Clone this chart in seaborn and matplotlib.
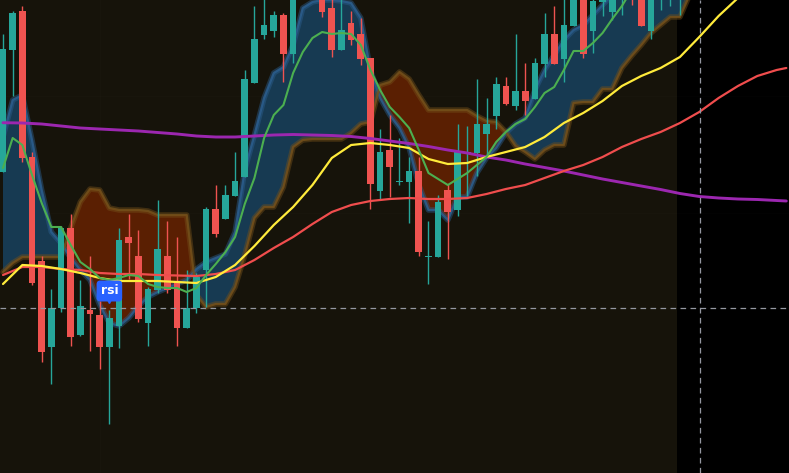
import numpy as np
import pandas as pd
import matplotlib
matplotlib.use("Agg")
import matplotlib.pyplot as plt
import seaborn as sns

# ---------------- data (price units) ----------------
opens = [328, 450, 489, 343, 239, 153, 192, 272, 165, 190, 185, 153, 174, 263, 244, 177, 210, 244, 218, 172,
         192, 230, 291, 281, 304, 323, 417, 465, 469, 485, 446, 520, 550, 540, 492, 450, 477, 466, 442, 309,
         350, 318, 318, 329, 243, 243, 310, 290, 347, 347, 366, 384, 414, 394, 409, 401, 436, 466, 441, 474,
         515, 469, 498, 488, 505, 530, 525, 469, 510, 515, 510]
highs = [466, 489, 494, 348, 244, 211, 274, 286, 220, 244, 199, 190, 272, 286, 270, 213, 300, 279, 263, 230,
         227, 293, 315, 315, 348, 430, 494, 505, 489, 487, 530, 560, 570, 548, 502, 505, 489, 482, 442, 371,
         385, 362, 343, 343, 279, 305, 316, 376, 374, 421, 402, 423, 423, 466, 437, 442, 487, 494, 503, 520,
         520, 510, 530, 525, 530, 535, 535, 530, 540, 545, 550]
lows = [328, 404, 338, 215, 138, 116, 188, 154, 164, 149, 131, 76, 152, 221, 178, 154, 207, 207, 154, 172,
        187, 193, 263, 281, 304, 323, 417, 461, 463, 418, 437, 512, 530, 483, 443, 450, 455, 435, 291, 300,
        303, 315, 277, 244, 216, 243, 241, 284, 304, 324, 343, 371, 395, 390, 385, 401, 423, 436, 418, 474,
        442, 447, 484, 480, 485, 495, 474, 461, 490, 494, 485]
closes = [451, 487, 342, 217, 148, 192, 272, 163, 194, 186, 153, 182, 260, 257, 181, 211, 251, 210, 172, 192,
          223, 291, 266, 305, 319, 421, 461, 475, 485, 446, 520, 550, 540, 488, 450, 470, 460, 441, 316, 348,
          333, 319, 329, 248, 244, 298, 288, 348, 348, 376, 376, 416, 396, 409, 399, 437, 466, 436, 475, 510,
          446, 499, 520, 515, 520, 510, 474, 520, 530, 535, 540]

ma_idx = list(range(0, 81, 2)) + [81]
ma_long = [377.3, 377, 376, 374, 372, 371, 370, 369, 367.5, 366, 364, 363, 363, 364, 365, 365.5, 365, 364.5,
           363.5, 361.5, 359, 356.5, 353.5, 350, 347, 343, 340, 336, 332.5, 329, 325, 321, 317.5, 314, 310.5,
           306.5, 303.5, 302, 301, 300.5, 299.5, 299]
ma_mid = [225, 233, 233, 231, 230, 227, 226, 226, 225, 224.5, 224, 226, 230, 240, 252, 263, 276, 288, 295, 299,
          301, 302, 301, 301, 302, 306, 311, 315, 322, 329, 335, 343, 353, 361, 368, 377, 388, 402, 414, 424,
          430, 432]
ma_fast = [216, 235, 234, 231, 227, 222, 219, 219, 219, 218, 217, 223, 235, 254, 275, 293, 315, 342, 355, 357,
           355, 352, 341, 336, 337, 343, 348, 353, 363, 377, 387, 399, 414, 424, 432, 443, 463, 484, 502, 520,
           535, 542]

tenkan = [332, 362, 355, 325, 297, 273, 273, 255, 238, 231, 222, 220, 222, 225, 224, 216, 213, 212, 212, 208,
          212, 225, 236, 248, 263, 296, 322, 362, 385, 395, 427, 448, 462, 468, 466, 467, 466, 455, 430, 410,
          393, 383, 372, 350, 327, 321, 315, 321, 327, 335, 343, 358, 368, 376, 381, 393, 407, 413, 430, 449,
          449, 457, 467, 481, 494, 510]

span_a = [363, 400, 405, 360, 310, 268, 257, 242, 230, 220, 195, 177, 174, 182, 194, 203, 208, 212, 216, 220,
          231, 238, 242, 246, 268, 330, 365, 402, 427, 433, 455, 492, 498, 500, 500, 499, 497, 482, 430, 402,
          385, 372, 352, 315, 290, 290, 280, 303, 303, 327, 342, 352, 367, 376, 382, 410, 430, 445, 460, 470,
          475, 485, 495, 505, 515, 525, 535, 545, 555, 565, 575, 585, 595]
span_b = [228, 237, 243, 243, 243, 243, 243, 272, 298, 311, 310, 292, 290, 290, 290, 289, 285, 285, 285, 285,
          205, 193, 196, 196, 213, 245, 282, 293, 293, 313, 353, 360, 361, 361, 361, 361, 367, 376, 378, 415,
          418, 428, 421, 405, 390, 390, 390, 390, 390, 384, 379, 378, 368, 354, 348, 341, 350, 355, 355, 397,
          398, 398, 411, 411, 432, 444, 455, 467, 475, 483, 483, 505, 515]

label_text = "rsi"
label_bar = 11
label_price = 209
cross_price = 192
cross_bar = 72.1

# ---------------- style ----------------
BG = "#16130a"
TEAL = "#26a69a"
RED = "#ef5350"

sns.set_theme(style="dark")
plt.rcParams["font.family"] = ["DejaVu Sans"]

fig = plt.figure(figsize=(7.89, 4.73), dpi=100, facecolor=BG)
ax = fig.add_axes([0, 0, 1, 1])
ax.set_facecolor(BG)
ax.set_xlim(-0.31, 81.28)
ax.set_ylim(27, 500)
ax.axis("off")

# future / out-of-session area
ax.axvspan(69.7, 90, color="#000000", zorder=0, lw=0)

# faint grid
for yy in [404, 287]:
    ax.axhline(yy, color="#ffffff", alpha=0.012, lw=0.8, zorder=0.5)
ax.axvline(10.03, color="#ffffff", alpha=0.012, lw=0.8, zorder=0.5)

# ---------------- cloud ----------------
cx = np.arange(len(span_a))
a = np.array(span_a, float)
b = np.array(span_b, float)
ax.fill_between(cx, a, b, where=a >= b, interpolate=True, color="#173a52", lw=0, zorder=1)
ax.fill_between(cx, a, b, where=a < b, interpolate=True, color="#5a1f02", lw=0, zorder=1)
cloud = pd.DataFrame({"i": cx, "a": a, "b": b})
for lw_, al in [(4.0, 0.45), (1.6, 0.85)]:
    sns.lineplot(data=cloud, x="i", y="a", ax=ax, color="#2b5e8e", lw=lw_, alpha=al,
                 sort=False, estimator=None, legend=False, zorder=2)
    sns.lineplot(data=cloud, x="i", y="b", ax=ax, color="#74501a", lw=lw_, alpha=al,
                 sort=False, estimator=None, legend=False, zorder=2)

# ---------------- candles ----------------
df = pd.DataFrame({"o": opens, "h": highs, "l": lows, "c": closes})
df["i"] = np.arange(len(df))
up = df["c"] >= df["o"]
cols = np.where(up, TEAL, RED)
ax.vlines(df["i"], df["l"], df["h"], colors=cols, lw=1.0, zorder=4)
bottom = np.minimum(df["o"], df["c"])
height = np.maximum((df["c"] - df["o"]).abs(), 1.3)
ax.bar(df["i"], height, bottom=bottom, width=0.69, color=cols, lw=0, zorder=5)

# ---------------- moving averages ----------------
ma = pd.DataFrame({"i": ma_idx, "long": ma_long, "mid": ma_mid, "fast": ma_fast})
sns.lineplot(data=ma, x="i", y="long", ax=ax, color="#9c27b0", lw=2.1,
             sort=False, estimator=None, legend=False, zorder=6)
sns.lineplot(data=ma, x="i", y="mid", ax=ax, color="#f04d4d", lw=1.6,
             sort=False, estimator=None, legend=False, zorder=6)
sns.lineplot(data=ma, x="i", y="fast", ax=ax, color="#ffeb3b", lw=1.6,
             sort=False, estimator=None, legend=False, zorder=6)
tk = pd.DataFrame({"i": np.arange(len(tenkan)), "v": tenkan})
sns.lineplot(data=tk, x="i", y="v", ax=ax, color="#4caf50", lw=1.5,
             sort=False, estimator=None, legend=False, zorder=6)

# ---------------- crosshair ----------------
ax.axhline(cross_price, color="#9598a1", lw=0.9, ls=(0, (4.5, 3.5)), zorder=7)
ax.axvline(cross_bar, color="#9598a1", lw=0.9, ls=(0, (4.5, 3.5)), zorder=7)

# ---------------- label badge ----------------
ax.plot([label_bar], [label_price - 9], marker="v", ms=5, color="#2962ff", zorder=8, lw=0)
ax.text(label_bar, label_price, label_text, color="white", fontsize=9, fontweight="bold",
        ha="center", va="center", zorder=9,
        bbox=dict(boxstyle="round,pad=0.32,rounding_size=0.3", fc="#2962ff", ec="none"))

ax.set_xlabel("")
ax.set_ylabel("")
fig.savefig("out.png", dpi=100, facecolor=BG)
